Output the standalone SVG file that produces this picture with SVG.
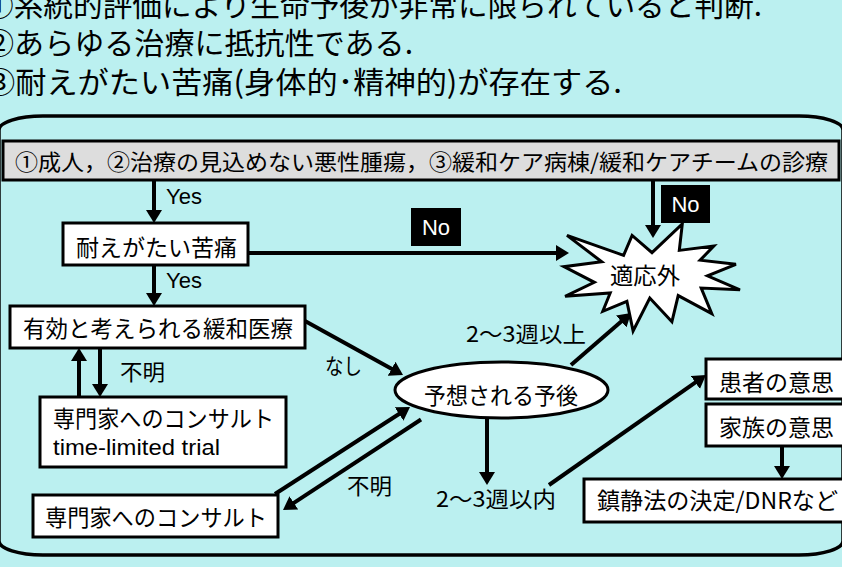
<svg xmlns="http://www.w3.org/2000/svg" width="842" height="567" viewBox="0 0 842 567">
<defs>
<style>
.jp{font-family:"Noto Sans CJK JP","Liberation Sans",sans-serif;fill:#000}
.en{font-family:"Liberation Sans",Arial,sans-serif;fill:#000}
.box{fill:#fff;stroke:#000;stroke-width:3}
.con{stroke:#000;stroke-width:4;fill:none}
.lbl{fill:#000}
</style>
<marker id="ah" markerUnits="userSpaceOnUse" markerWidth="16" markerHeight="16" refX="5" refY="8" orient="auto" viewBox="0 0 16 16">
<path d="M0,0 L13,8 L0,16 z" fill="#000"/>
</marker>
</defs>
<rect x="0" y="0" width="842" height="567" fill="#BBF0F0"/>
<g id="header" class="jp" font-size="30">
<text x="-16" y="16" textLength="778" lengthAdjust="spacingAndGlyphs">①系統的評価により生命予後が非常に限られていると判断.</text>
<text x="-16" y="54" textLength="429" lengthAdjust="spacingAndGlyphs">②あらゆる治療に抵抗性である.</text>
<text x="-16" y="93" textLength="638" lengthAdjust="spacingAndGlyphs">③耐えがたい苦痛(身体的･精神的)が存在する.</text>
</g>
<g id="frame">
<rect x="-1" y="116" width="844" height="439" rx="44" ry="14" fill="none" stroke="#000" stroke-width="3.5"/>
</g>
<g id="connectors">
<line class="con" x1="154" y1="181" x2="154" y2="215" marker-end="url(#ah)"/>
<line class="con" x1="154" y1="265" x2="154" y2="298" marker-end="url(#ah)"/>
<line class="con" x1="246" y1="253" x2="561" y2="253" marker-end="url(#ah)"/>
<line class="con" x1="653" y1="181" x2="653" y2="230" marker-end="url(#ah)"/>
<line class="con" x1="79" y1="397" x2="79" y2="356" marker-end="url(#ah)"/>
<line class="con" x1="100" y1="348" x2="100" y2="389" marker-end="url(#ah)"/>
<line class="con" x1="305" y1="321" x2="396" y2="371.2" marker-end="url(#ah)"/>
<line class="con" x1="275" y1="494" x2="403.3" y2="411.3" marker-end="url(#ah)"/>
<line class="con" x1="421" y1="419.5" x2="289.7" y2="505.6" marker-end="url(#ah)"/>
<line class="con" x1="571" y1="365" x2="625" y2="318.2" marker-end="url(#ah)"/>
<line class="con" x1="487" y1="418" x2="487" y2="477" marker-end="url(#ah)"/>
<line class="con" x1="549" y1="485" x2="699.4" y2="379.6" marker-end="url(#ah)"/>
<line class="con" x1="782" y1="446" x2="782" y2="471" marker-end="url(#ah)"/>
</g>
<g id="labels">
<text class="en" x="166" y="204" font-size="22">Yes</text>
<text class="en" x="166" y="288" font-size="22">Yes</text>
<text class="jp" x="120" y="380" font-size="22" textLength="45" lengthAdjust="spacingAndGlyphs">不明</text>
<text class="jp" x="347" y="494" font-size="22" textLength="45" lengthAdjust="spacingAndGlyphs">不明</text>
<text class="jp" x="325" y="374" font-size="22" textLength="37" lengthAdjust="spacingAndGlyphs">なし</text>
<text class="jp" x="466" y="342" font-size="22" textLength="120" lengthAdjust="spacingAndGlyphs">2～3週以上</text>
<text class="jp" x="436" y="507" font-size="22" textLength="120" lengthAdjust="spacingAndGlyphs">2～3週以内</text>
</g>
<g id="no1">
<rect x="411" y="208" width="50" height="38" fill="#000"/>
<text class="en" x="436" y="235" font-size="22" fill="#fff" text-anchor="middle" style="fill:#fff">No</text>
</g>
<g id="criteria">
<rect x="3" y="141" width="836" height="39" fill="#DDDDDD" stroke="#000" stroke-width="3"/>
<text class="jp" x="15" y="170" font-size="22" textLength="813" lengthAdjust="spacingAndGlyphs">①成人，②治療の見込めない悪性腫瘍，③緩和ケア病棟/緩和ケアチームの診療</text>
</g>
<g id="unbearable">
<rect class="box" x="63" y="223" width="185" height="42"/>
<text class="jp" x="76" y="256" font-size="23" textLength="161" lengthAdjust="spacingAndGlyphs">耐えがたい苦痛</text>
</g>
<g id="palliative">
<rect class="box" x="10" y="306" width="295" height="42"/>
<text class="jp" x="23" y="337" font-size="23" textLength="270" lengthAdjust="spacingAndGlyphs">有効と考えられる緩和医療</text>
</g>
<g id="consult1">
<rect class="box" x="40" y="397" width="246" height="70"/>
<text class="jp" x="53" y="427" font-size="23" textLength="221" lengthAdjust="spacingAndGlyphs">専門家へのコンサルト</text>
<text class="en" x="53" y="455" font-size="22" textLength="167" lengthAdjust="spacingAndGlyphs">time-limited trial</text>
</g>
<g id="consult2">
<rect class="box" x="33" y="495" width="245" height="42"/>
<text class="jp" x="45" y="526" font-size="23" textLength="222" lengthAdjust="spacingAndGlyphs">専門家へのコンサルト</text>
</g>
<g id="prognosis">
<ellipse cx="501.5" cy="390" rx="106.5" ry="28" fill="#fff" stroke="#000" stroke-width="3"/>
<text class="jp" x="424" y="404" font-size="23" textLength="154" lengthAdjust="spacingAndGlyphs">予想される予後</text>
</g>
<g id="excluded">
<polygon points="567,235.4 623.6,255.3 632.1,235.4 652,252.7 682.3,224 679.3,250.4 713.8,246.1 700.1,260.2 735.9,264.3 707.5,275.9 740,289.8 701.2,288.1 711.8,313.6 678.2,295.6 671.9,321.8 649.8,298 633.1,331 626.9,301.4 602.8,311.3 610.2,293 565.1,296.3 594.3,282.3 564,266.7 601.7,261.7" fill="#fff" stroke="#000" stroke-width="3" stroke-linejoin="miter"/>
<text class="jp" x="610" y="284" font-size="23" textLength="70" lengthAdjust="spacingAndGlyphs">適応外</text>
</g>
<g id="no2">
<rect x="661" y="185" width="49" height="38" fill="#000"/>
<text class="en" x="685.5" y="212" font-size="22" text-anchor="middle" style="fill:#fff">No</text>
</g>
<g id="patient">
<rect class="box" x="706" y="359" width="150" height="40"/>
<text class="jp" x="719" y="391" font-size="23" textLength="115" lengthAdjust="spacingAndGlyphs">患者の意思</text>
</g>
<g id="family">
<rect class="box" x="706" y="404" width="150" height="42"/>
<text class="jp" x="719" y="436" font-size="23" textLength="115" lengthAdjust="spacingAndGlyphs">家族の意思</text>
</g>
<g id="sedation">
<rect class="box" x="584" y="479" width="270" height="43"/>
<text class="jp" x="597" y="509" font-size="23" textLength="241" lengthAdjust="spacingAndGlyphs">鎮静法の決定/DNRなど</text>
</g>
</svg>
